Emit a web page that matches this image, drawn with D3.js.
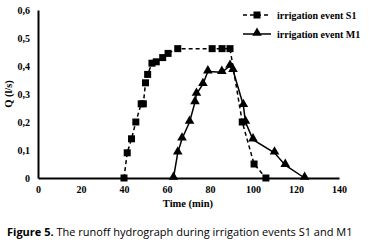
<!DOCTYPE html>
<html>
<head>
<meta charset="utf-8">
<script src="https://d3js.org/d3.v7.min.js"></script>
<style>
  body { margin: 0; background: #fff; }
  svg { display: block; }
  .tick text { font-family: "Liberation Serif", serif; font-weight: bold; font-size: 10px; }
</style>
</head>
<body>
<script>
// S1 runoff (squares, dashed)
var s1Time = [40, 41.5, 43.5, 45.5, 48, 49, 50, 51, 53, 55, 58, 60.5, 65, 81, 85.6, 89.3, 95, 100.5, 106];
var s1Q    = [0, 0.09, 0.14, 0.2, 0.265, 0.265, 0.34, 0.37, 0.41, 0.415, 0.43, 0.445, 0.462, 0.462, 0.462, 0.462, 0.2, 0.05, 0];
// M1 runoff (triangles, solid)
var m1Time = [63, 65, 67, 70.5, 73, 73.7, 76.7, 79, 85.5, 89.3, 90.7, 95.5, 96.5, 100, 110, 115, 124];
var m1Q    = [0, 0.09, 0.14, 0.2, 0.27, 0.3, 0.335, 0.38, 0.378, 0.4, 0.385, 0.26, 0.2, 0.137, 0.09, 0.046, 0];
var xTicks = [0, 20, 40, 60, 80, 100, 120, 140];
var yTicks = [0, 0.1, 0.2, 0.3, 0.4, 0.5, 0.6];
var seriesNames = ["irrigation event S1", "irrigation event M1"];

var w = 370, h = 244;
var svg = d3.select("body").append("svg").attr("width", w).attr("height", h);

var x = d3.scaleLinear().domain([0, 140]).range([38, 339]);
var y = d3.scaleLinear().domain([0, 0.6]).range([178, 10]);

var fmt = function(d) { return d === 0 ? "0" : d3.format(".1f")(d).replace(".", ","); };

// axes
var xAxis = svg.append("g").attr("transform", "translate(0," + y(0) + ")")
  .call(d3.axisBottom(x).tickValues(xTicks).tickSize(0).tickPadding(8));
var yAxis = svg.append("g").attr("transform", "translate(" + x(0) + ",0)")
  .call(d3.axisLeft(y).tickValues(yTicks).tickFormat(fmt).tickSize(0).tickPadding(8));
[xAxis, yAxis].forEach(function(a) {
  a.select(".domain").attr("stroke", "#000").attr("stroke-width", 2);
});

// data
var s1 = s1Time.map(function(t, i) { return [t, s1Q[i]]; });
var m1 = m1Time.map(function(t, i) { return [t, m1Q[i]]; });
var line = d3.line().x(function(d) { return x(d[0]); }).y(function(d) { return y(d[1]); });

svg.append("path").datum(m1).attr("d", line)
  .attr("fill", "none").attr("stroke", "#000").attr("stroke-width", 1.5);
svg.append("path").datum(s1).attr("d", line)
  .attr("fill", "none").attr("stroke", "#000").attr("stroke-width", 1.5).attr("stroke-dasharray", "4,3");

var tri = d3.symbol().type(d3.symbolTriangle).size(40);
svg.selectAll(".tri").data(m1).enter().append("path")
  .attr("d", tri)
  .attr("transform", function(d) { return "translate(" + x(d[0]) + "," + (y(d[1]) - 1) + ")"; })
  .attr("fill", "#000");

svg.selectAll(".sq").data(s1).enter().append("rect")
  .attr("x", function(d) { return x(d[0]) - 3.5; })
  .attr("y", function(d) { return y(d[1]) - 3.5; })
  .attr("width", 7).attr("height", 7).attr("fill", "#000");

// legend
var legend = svg.selectAll(".leg").data(seriesNames).enter().append("g")
  .attr("transform", function(d, i) { return "translate(243," + (15 + i * 19) + ")"; });
legend.append("line").attr("x1", 0).attr("x2", 28).attr("y1", 0).attr("y2", 0)
  .attr("stroke", "#000").attr("stroke-width", 1.5)
  .attr("stroke-dasharray", function(d, i) { return i === 0 ? "4,3" : null; });
legend.each(function(d, i) {
  var g = d3.select(this);
  if (i === 0) g.append("rect").attr("x", 10.5).attr("y", -3.5).attr("width", 7).attr("height", 7).attr("fill", "#000");
  else g.append("path").attr("d", tri).attr("transform", "translate(14,-1)").attr("fill", "#000");
});
legend.append("text").attr("x", 34).attr("y", 3.5)
  .style("font-family", "Liberation Serif, serif").style("font-weight", "bold").style("font-size", "10px")
  .text(function(d) { return d; });

// axis titles
svg.append("text").attr("x", 188).attr("y", 207).attr("text-anchor", "middle")
  .style("font-family", "Liberation Serif, serif").style("font-weight", "bold").style("font-size", "10.5px")
  .text("Time (min)");
svg.append("text").attr("transform", "translate(12,94) rotate(-90)").attr("text-anchor", "middle")
  .style("font-family", "Liberation Serif, serif").style("font-weight", "bold").style("font-size", "10.5px")
  .text("Q (l/s)");

// caption
var cap = svg.append("text").attr("x", 7).attr("y", 236)
  .style("font-family", "Open Sans, sans-serif").style("font-size", "11px");
cap.append("tspan").style("font-weight", "bold").text("Figure 5.");
cap.append("tspan").text(" The runoff hydrograph during irrigation events S1 and M1");
</script>
</body>
</html>
